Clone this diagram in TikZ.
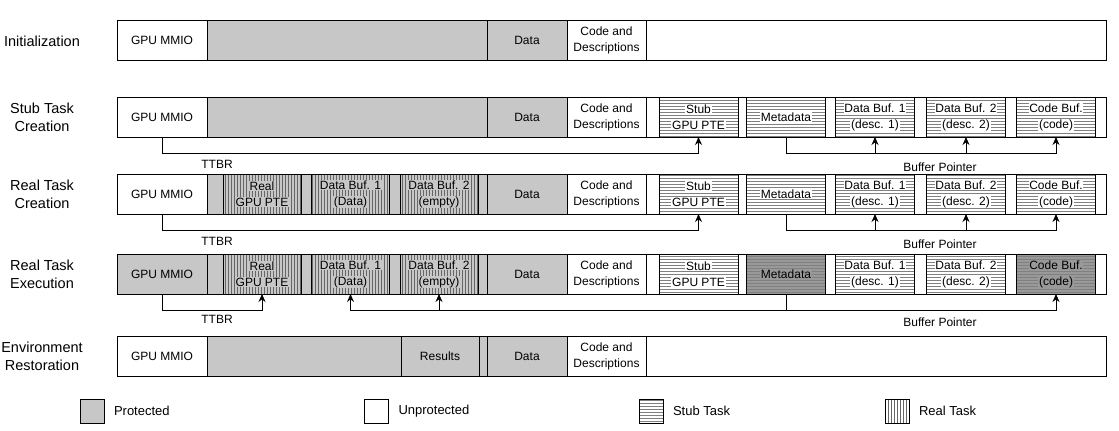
\documentclass[tikz,border=0pt]{standalone}
\usepackage{fontspec}
\setmainfont{Liberation Sans}
\usepackage{xcolor}
\usepackage{tikz}
\usetikzlibrary{arrows.meta,patterns,positioning}

\definecolor{protgray}{gray}{0.78}
\definecolor{execgray}{gray}{0.6}
\def\cellbg{white}
\newcommand{\tb}[1]{{\fboxsep=0.8pt\colorbox{\cellbg}{#1}}}

\begin{document}
\begin{tikzpicture}[>={Stealth[length=8pt,width=7pt]},
                    x=1pt,y=-1pt,
                    every node/.style={inner sep=0pt,outer sep=0pt},
                    small/.style={font=\fontsize{12}{16}\selectfont},
                    phase/.style={font=\fontsize{14.5}{18}\selectfont,align=center},
                    cell/.style={small,draw,line width=0.9pt,minimum height=40pt,
                                 align=center,minimum width=#1},
                    cell/.default=80pt,
                    bar/.style={cell=989pt,fill=white},
                    prot/.style={cell=#1,fill=protgray},
                    prot/.default=80pt,
                    unprot/.style={cell=#1,fill=white},
                    unprot/.default=80pt,
                    stub/.style={cell=79pt,preaction={fill=#1},
                                 pattern=horizontal lines,pattern color=black!50,
                                 execute at begin node={\def\cellbg{#1}}},
                    real/.style={cell=78pt,preaction={fill=protgray},
                                 pattern=vertical lines,pattern color=black!60,
                                 execute at begin node={\def\cellbg{protgray}}},
                    conn/.style={->,line width=0.9pt},
                    legend/.style={font=\fontsize{13}{16}\selectfont}]

\useasboundingbox (0,0) rectangle (1119,431);

\node[phase] (init) at (42,41) {Initialization};
\node[phase] (stubc) at (42,117) {Stub Task\\Creation};
\node[phase] (realc) at (42,194) {Real Task\\Creation};
\node[phase] (reale) at (42,274) {Real Task\\Execution};
\node[phase] (envr) at (42,356) {Environment\\Restoration};

\node[bar] (bar1) at (611.5,40) {};
\node[unprot=90pt] (mmio1) at (162,40) {GPU MMIO};
\node[prot=280pt] (blk1) at (347,40) {};
\node[prot] (data1) at (527,40) {Data};
\node[unprot=79pt] (cd1) at (606.5,40) {Code and\\Descriptions};

\node[bar] (bar2) at (611.5,117) {};
\node[unprot=90pt] (mmio2) at (162,117) {GPU MMIO};
\node[prot=280pt] (blk2) at (347,117) {};
\node[prot] (data2) at (527,117) {Data};
\node[unprot=79pt] (cd2) at (606.5,117) {Code and\\Descriptions};
\node[stub=white] (spte2) at (698.5,117) {\tb{Stub}\\\tb{GPU PTE}};
\node[stub=white] (meta2) at (786,117) {\tb{Metadata}};
\node[stub=white] (dbuf12) at (875,117) {\tb{Data Buf. 1}\\\tb{(desc. 1)}};
\node[stub=white] (dbuf22) at (966,117) {\tb{Data Buf. 2}\\\tb{(desc. 2)}};
\node[stub=white] (cbuf2) at (1056,117) {\tb{Code Buf.}\\\tb{(code)}};

\draw[conn] (mmio2.south) -- ++(0,16) -| (spte2.south);
\draw[conn] (meta2.south) -- ++(0,16) -| (dbuf12.south);
\draw[conn] (meta2.south) ++(0,16) -| (dbuf22.south);
\draw[conn] (meta2.south) ++(0,16) -| (cbuf2.south);
\node[small] (ttbr2) at (217,164) {TTBR};
\node[small] (bptr2) at (940,167) {Buffer Pointer};

\node[bar] (bar3) at (611.5,194) {};
\node[unprot=90pt] (mmio3) at (162,194) {GPU MMIO};
\node[prot=280pt] (blk3) at (347,194) {};
\node[real] (rpte3) at (262,194) {\tb{Real}\\\tb{GPU PTE}};
\node[real] (rbuf13) at (350.5,194) {\tb{Data Buf. 1}\\\tb{(Data)}};
\node[real] (rbuf23) at (439,194) {\tb{Data Buf. 2}\\\tb{(empty)}};
\node[prot] (data3) at (527,194) {Data};
\node[unprot=79pt] (cd3) at (606.5,194) {Code and\\Descriptions};
\node[stub=white] (spte3) at (698.5,194) {\tb{Stub}\\\tb{GPU PTE}};
\node[stub=white] (meta3) at (786,194) {\tb{Metadata}};
\node[stub=white] (dbuf13) at (875,194) {\tb{Data Buf. 1}\\\tb{(desc. 1)}};
\node[stub=white] (dbuf23) at (966,194) {\tb{Data Buf. 2}\\\tb{(desc. 2)}};
\node[stub=white] (cbuf3) at (1056,194) {\tb{Code Buf.}\\\tb{(code)}};

\draw[conn] (mmio3.south) -- ++(0,16) -| (spte3.south);
\draw[conn] (meta3.south) -- ++(0,16) -| (dbuf13.south);
\draw[conn] (meta3.south) ++(0,16) -| (dbuf23.south);
\draw[conn] (meta3.south) ++(0,16) -| (cbuf3.south);
\node[small] (ttbr3) at (217,241) {TTBR};
\node[small] (bptr3) at (940,244) {Buffer Pointer};

\node[bar] (bar4) at (611.5,274) {};
\node[prot=90pt] (mmio4) at (162,274) {GPU MMIO};
\node[prot=280pt] (blk4) at (347,274) {};
\node[real] (rpte4) at (262,274) {\tb{Real}\\\tb{GPU PTE}};
\node[real] (rbuf14) at (350.5,274) {\tb{Data Buf. 1}\\\tb{(Data)}};
\node[real] (rbuf24) at (439,274) {\tb{Data Buf. 2}\\\tb{(empty)}};
\node[prot] (data4) at (527,274) {Data};
\node[unprot=79pt] (cd4) at (606.5,274) {Code and\\Descriptions};
\node[stub=white] (spte4) at (698.5,274) {\tb{Stub}\\\tb{GPU PTE}};
\node[stub=execgray] (meta4) at (786,274) {\tb{Metadata}};
\node[stub=white] (dbuf14) at (875,274) {\tb{Data Buf. 1}\\\tb{(desc. 1)}};
\node[stub=white] (dbuf24) at (966,274) {\tb{Data Buf. 2}\\\tb{(desc. 2)}};
\node[stub=execgray] (cbuf4) at (1056,274) {\tb{Code Buf.}\\\tb{(code)}};

\draw[conn] (mmio4.south) -- ++(0,16) -| (rpte4.south);
\draw[conn] (meta4.south) -- ++(0,16) -| (rbuf14.south);
\draw[conn] (meta4.south) ++(0,16) -| (rbuf24.south);
\draw[conn] (meta4.south) ++(0,16) -| (cbuf4.south);
\node[small] (ttbr4) at (217,319) {TTBR};
\node[small] (bptr4) at (940,322) {Buffer Pointer};

\node[bar] (bar5) at (611.5,356) {};
\node[unprot=90pt] (mmio5) at (162,356) {GPU MMIO};
\node[prot=280pt] (blk5) at (347,356) {};
\node[prot=78pt] (res5) at (440,356) {Results};
\node[prot] (data5) at (527,356) {Data};
\node[unprot=79pt] (cd5) at (606.5,356) {Code and\\Descriptions};

\node[prot=24pt,minimum height=24pt] (lprot) at (92,411) {};
\node[legend,right=10pt of lprot] (tprot) {Protected};
\node[unprot=24pt,minimum height=24pt] (lunprot) at (376.5,411) {};
\node[legend,right=10pt of lunprot] (tunprot) {Unprotected};
\node[stub=white,minimum width=24pt,minimum height=24pt] (lstub) at (651,411) {};
\node[legend,right=10pt of lstub] (tstub) {Stub Task};
\node[real,minimum width=24pt,minimum height=24pt,preaction={fill=white}] (lreal) at (897,411) {};
\node[legend,right=10pt of lreal] (treal) {Real Task};

\end{tikzpicture}
\end{document}
